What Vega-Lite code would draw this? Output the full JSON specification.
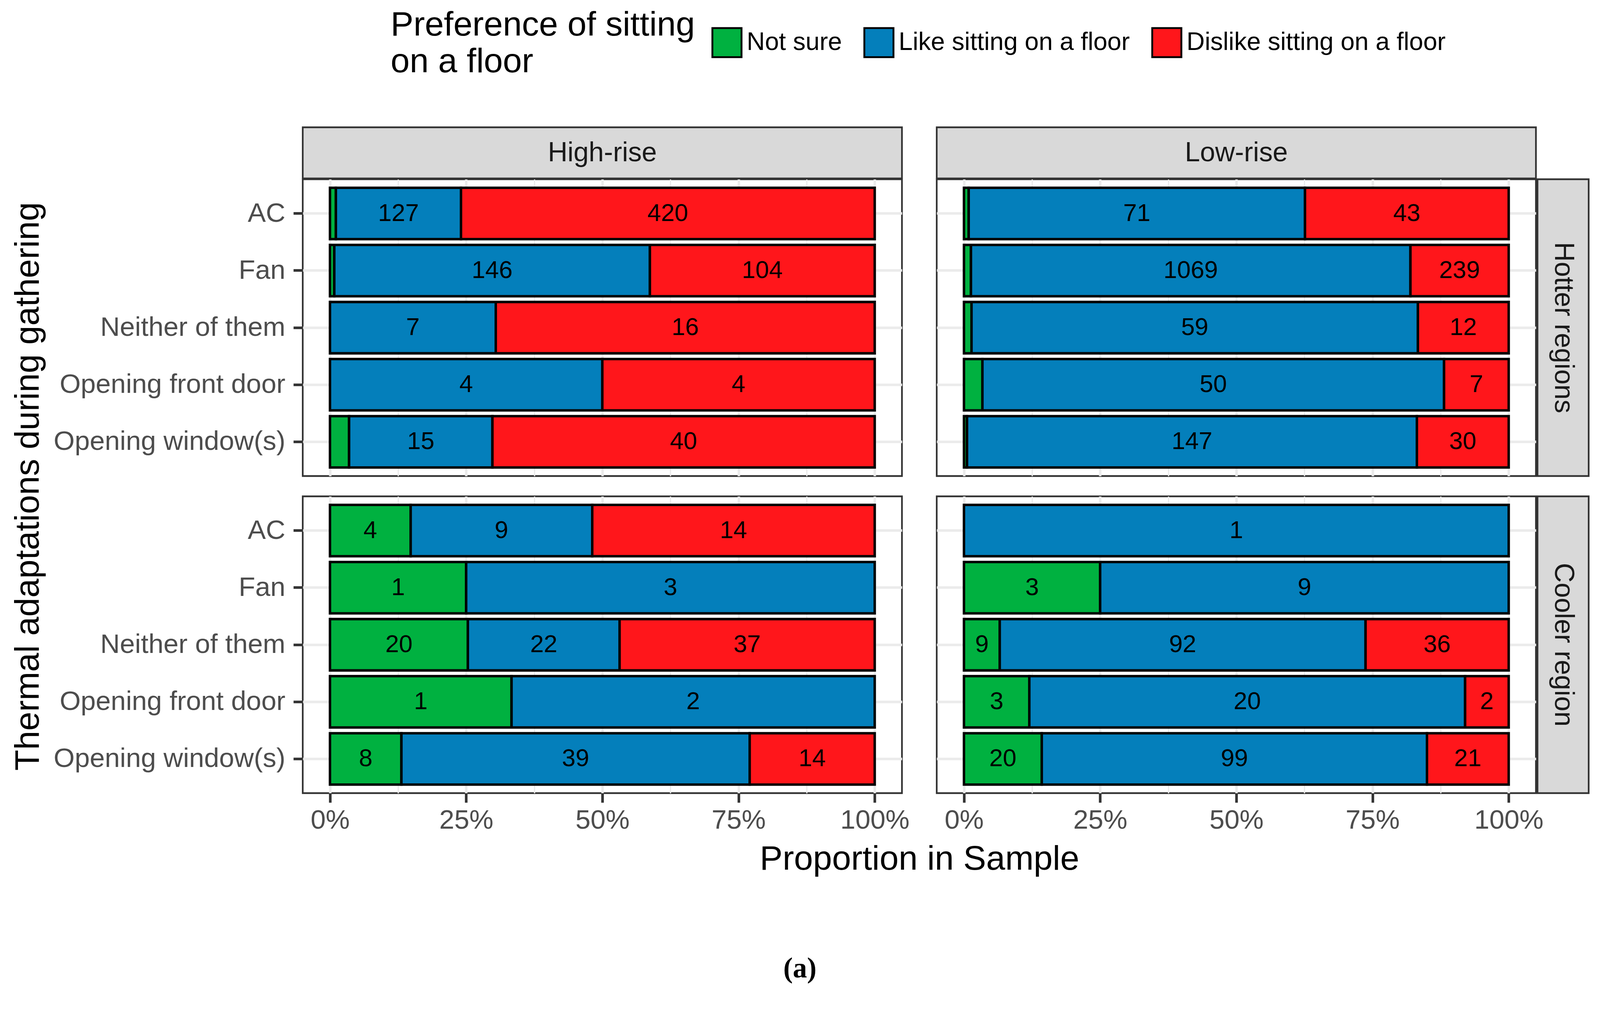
{
  "$schema": "https://vega.github.io/schema/vega-lite/v6.json",
  "autosize": {"type": "pad"},
  "padding": {"left": 26, "top": 69, "right": 27, "bottom": 10},
  "background": "white",
  "title": {"text": "(a)", "orient": "bottom", "anchor": "middle", "frame": "bounds", "font": "Liberation Serif", "fontSize": 73, "fontWeight": "bold", "color": "black", "offset": 198},
  "datasets": {
    "d": [
      {"bldg": "High-rise", "region": "Hotter regions", "adapt": "AC", "pref": "Not sure", "n": 6},
      {"bldg": "High-rise", "region": "Hotter regions", "adapt": "AC", "pref": "Like sitting on a floor", "n": 127},
      {"bldg": "High-rise", "region": "Hotter regions", "adapt": "AC", "pref": "Dislike sitting on a floor", "n": 420},
      {"bldg": "High-rise", "region": "Hotter regions", "adapt": "Fan", "pref": "Not sure", "n": 2},
      {"bldg": "High-rise", "region": "Hotter regions", "adapt": "Fan", "pref": "Like sitting on a floor", "n": 146},
      {"bldg": "High-rise", "region": "Hotter regions", "adapt": "Fan", "pref": "Dislike sitting on a floor", "n": 104},
      {"bldg": "High-rise", "region": "Hotter regions", "adapt": "Neither of them", "pref": "Like sitting on a floor", "n": 7},
      {"bldg": "High-rise", "region": "Hotter regions", "adapt": "Neither of them", "pref": "Dislike sitting on a floor", "n": 16},
      {"bldg": "High-rise", "region": "Hotter regions", "adapt": "Opening front door", "pref": "Like sitting on a floor", "n": 4},
      {"bldg": "High-rise", "region": "Hotter regions", "adapt": "Opening front door", "pref": "Dislike sitting on a floor", "n": 4},
      {"bldg": "High-rise", "region": "Hotter regions", "adapt": "Opening window(s)", "pref": "Not sure", "n": 2},
      {"bldg": "High-rise", "region": "Hotter regions", "adapt": "Opening window(s)", "pref": "Like sitting on a floor", "n": 15},
      {"bldg": "High-rise", "region": "Hotter regions", "adapt": "Opening window(s)", "pref": "Dislike sitting on a floor", "n": 40},
      {"bldg": "Low-rise", "region": "Hotter regions", "adapt": "AC", "pref": "Not sure", "n": 1},
      {"bldg": "Low-rise", "region": "Hotter regions", "adapt": "AC", "pref": "Like sitting on a floor", "n": 71},
      {"bldg": "Low-rise", "region": "Hotter regions", "adapt": "AC", "pref": "Dislike sitting on a floor", "n": 43},
      {"bldg": "Low-rise", "region": "Hotter regions", "adapt": "Fan", "pref": "Not sure", "n": 17},
      {"bldg": "Low-rise", "region": "Hotter regions", "adapt": "Fan", "pref": "Like sitting on a floor", "n": 1069},
      {"bldg": "Low-rise", "region": "Hotter regions", "adapt": "Fan", "pref": "Dislike sitting on a floor", "n": 239},
      {"bldg": "Low-rise", "region": "Hotter regions", "adapt": "Neither of them", "pref": "Not sure", "n": 1},
      {"bldg": "Low-rise", "region": "Hotter regions", "adapt": "Neither of them", "pref": "Like sitting on a floor", "n": 59},
      {"bldg": "Low-rise", "region": "Hotter regions", "adapt": "Neither of them", "pref": "Dislike sitting on a floor", "n": 12},
      {"bldg": "Low-rise", "region": "Hotter regions", "adapt": "Opening front door", "pref": "Not sure", "n": 2},
      {"bldg": "Low-rise", "region": "Hotter regions", "adapt": "Opening front door", "pref": "Like sitting on a floor", "n": 50},
      {"bldg": "Low-rise", "region": "Hotter regions", "adapt": "Opening front door", "pref": "Dislike sitting on a floor", "n": 7},
      {"bldg": "Low-rise", "region": "Hotter regions", "adapt": "Opening window(s)", "pref": "Not sure", "n": 1},
      {"bldg": "Low-rise", "region": "Hotter regions", "adapt": "Opening window(s)", "pref": "Like sitting on a floor", "n": 147},
      {"bldg": "Low-rise", "region": "Hotter regions", "adapt": "Opening window(s)", "pref": "Dislike sitting on a floor", "n": 30},
      {"bldg": "High-rise", "region": "Cooler region", "adapt": "AC", "pref": "Not sure", "n": 4},
      {"bldg": "High-rise", "region": "Cooler region", "adapt": "AC", "pref": "Like sitting on a floor", "n": 9},
      {"bldg": "High-rise", "region": "Cooler region", "adapt": "AC", "pref": "Dislike sitting on a floor", "n": 14},
      {"bldg": "High-rise", "region": "Cooler region", "adapt": "Fan", "pref": "Not sure", "n": 1},
      {"bldg": "High-rise", "region": "Cooler region", "adapt": "Fan", "pref": "Like sitting on a floor", "n": 3},
      {"bldg": "High-rise", "region": "Cooler region", "adapt": "Neither of them", "pref": "Not sure", "n": 20},
      {"bldg": "High-rise", "region": "Cooler region", "adapt": "Neither of them", "pref": "Like sitting on a floor", "n": 22},
      {"bldg": "High-rise", "region": "Cooler region", "adapt": "Neither of them", "pref": "Dislike sitting on a floor", "n": 37},
      {"bldg": "High-rise", "region": "Cooler region", "adapt": "Opening front door", "pref": "Not sure", "n": 1},
      {"bldg": "High-rise", "region": "Cooler region", "adapt": "Opening front door", "pref": "Like sitting on a floor", "n": 2},
      {"bldg": "High-rise", "region": "Cooler region", "adapt": "Opening window(s)", "pref": "Not sure", "n": 8},
      {"bldg": "High-rise", "region": "Cooler region", "adapt": "Opening window(s)", "pref": "Like sitting on a floor", "n": 39},
      {"bldg": "High-rise", "region": "Cooler region", "adapt": "Opening window(s)", "pref": "Dislike sitting on a floor", "n": 14},
      {"bldg": "Low-rise", "region": "Cooler region", "adapt": "AC", "pref": "Like sitting on a floor", "n": 1},
      {"bldg": "Low-rise", "region": "Cooler region", "adapt": "Fan", "pref": "Not sure", "n": 3},
      {"bldg": "Low-rise", "region": "Cooler region", "adapt": "Fan", "pref": "Like sitting on a floor", "n": 9},
      {"bldg": "Low-rise", "region": "Cooler region", "adapt": "Neither of them", "pref": "Not sure", "n": 9},
      {"bldg": "Low-rise", "region": "Cooler region", "adapt": "Neither of them", "pref": "Like sitting on a floor", "n": 92},
      {"bldg": "Low-rise", "region": "Cooler region", "adapt": "Neither of them", "pref": "Dislike sitting on a floor", "n": 36},
      {"bldg": "Low-rise", "region": "Cooler region", "adapt": "Opening front door", "pref": "Not sure", "n": 3},
      {"bldg": "Low-rise", "region": "Cooler region", "adapt": "Opening front door", "pref": "Like sitting on a floor", "n": 20},
      {"bldg": "Low-rise", "region": "Cooler region", "adapt": "Opening front door", "pref": "Dislike sitting on a floor", "n": 2},
      {"bldg": "Low-rise", "region": "Cooler region", "adapt": "Opening window(s)", "pref": "Not sure", "n": 20},
      {"bldg": "Low-rise", "region": "Cooler region", "adapt": "Opening window(s)", "pref": "Like sitting on a floor", "n": 99},
      {"bldg": "Low-rise", "region": "Cooler region", "adapt": "Opening window(s)", "pref": "Dislike sitting on a floor", "n": 21}
    ]
  },
  "columns": 4,
  "spacing": {"row": 2, "column": 4},
  "bounds": "flush",
  "concat": [
    {
      "width": 1534, "height": 131,
      "data": {"values": [{"t": "High-rise"}]},
      "view": {"fill": "#D9D9D9", "stroke": "#333333", "strokeWidth": 4.3},
      "mark": {"type": "text", "fontSize": 69.8, "color": "#1A1A1A"},
      "encoding": {"text": {"field": "t"}}
    },
    {"width": 81, "height": 1, "data": {"values": []}, "mark": "text", "encoding": {}},
    {
      "width": 1534, "height": 131,
      "data": {"values": [{"t": "Low-rise"}]},
      "view": {"fill": "#D9D9D9", "stroke": "#333333", "strokeWidth": 4.3},
      "mark": {"type": "text", "fontSize": 69.8, "color": "#1A1A1A"},
      "encoding": {"text": {"field": "t"}}
    },
    {"width": 1, "height": 1, "data": {"values": []}, "mark": "text", "encoding": {}},

    {
      "width": 1534, "height": 760,
      "data": {"name": "d"},
      "transform": [
        {"filter": "datum.bldg === 'High-rise' && datum.region === 'Hotter regions'"},
        {"joinaggregate": [{"op": "sum", "field": "n", "as": "total"}], "groupby": ["adapt"]}
      ],
      "view": {"stroke": "#333333", "strokeWidth": 4.3},
      "encoding": {
        "y": {"field": "adapt", "type": "nominal",
          "scale": {"domain": ["AC", "Fan", "Neither of them", "Opening front door", "Opening window(s)"], "paddingInner": 0.1, "paddingOuter": 0.15},
          "axis": {"title": null, "labelFontSize": 69.3, "labelColor": "#4D4D4D", "labelPadding": 21, "tickSize": 24, "tickWidth": 6.7, "tickColor": "#333333", "domain": false, "grid": true, "gridColor": "#EBEBEB", "gridWidth": 6.3, "bandPosition": 0.5}},
        "order": {"field": "pref", "sort": "descending"}
      },
      "layer": [
        {
          "mark": {"type": "bar", "stroke": "black", "strokeWidth": 6.3},
          "encoding": {
            "x": {"field": "n", "type": "quantitative", "stack": "normalize",
              "scale": {"domain": [-0.05, 1.05], "nice": false, "zero": false},
              "axis": {"title": null, "labels": false, "ticks": false, "domain": false, "grid": true, "gridColor": "#EBEBEB",
                "values": [0, 0.125, 0.25, 0.375, 0.5, 0.625, 0.75, 0.875, 1],
                "gridWidth": {"condition": {"test": "datum.value * 4 % 1 !== 0", "value": 3.2}, "value": 6.3}}},
            "color": {"field": "pref", "type": "nominal",
              "scale": {"domain": ["Not sure", "Like sitting on a floor", "Dislike sitting on a floor"], "range": ["#00B140", "#047FBB", "#FF161B"]},
              "legend": {"orient": "none", "legendX": 225, "legendY": -257, "direction": "horizontal",
                "title": ["Preference of sitting", "on a floor"], "titleOrient": "left", "titleAnchor": "middle", "titleLimit": 0,
                "titleFontSize": 87.6, "titleFontWeight": "normal", "titleColor": "black", "titleLineHeight": 94.4, "titlePadding": 41,
                "labelFontSize": 64.5, "labelColor": "black", "labelOffset": 10.6, "columnPadding": 47,
                "symbolType": "square", "symbolSize": 5560, "symbolStrokeColor": "black", "symbolStrokeWidth": 4.8, "symbolOpacity": 1}}
          }
        },
        {
          "mark": {"type": "text", "fontSize": 62.6, "color": "black"},
          "encoding": {
            "x": {"field": "n", "type": "quantitative", "stack": "normalize", "bandPosition": 0.5,
              "scale": {"domain": [-0.05, 1.05], "nice": false, "zero": false},
              "axis": {"title": null, "labels": false, "ticks": false, "domain": false, "grid": true, "gridColor": "#EBEBEB",
                "values": [0, 0.125, 0.25, 0.375, 0.5, 0.625, 0.75, 0.875, 1],
                "gridWidth": {"condition": {"test": "datum.value * 4 % 1 !== 0", "value": 3.2}, "value": 6.3}}},
            "detail": {"field": "pref"},
            "text": {"condition": {"test": "datum.n / datum.total > 0.05", "field": "n", "type": "quantitative"}, "value": ""}
          }
        }
      ]
    },
    {"width": 81, "height": 1, "data": {"values": []}, "mark": "text", "encoding": {}},
    {
      "width": 1534, "height": 760,
      "data": {"name": "d"},
      "transform": [
        {"filter": "datum.bldg === 'Low-rise' && datum.region === 'Hotter regions'"},
        {"joinaggregate": [{"op": "sum", "field": "n", "as": "total"}], "groupby": ["adapt"]}
      ],
      "view": {"stroke": "#333333", "strokeWidth": 4.3},
      "encoding": {
        "y": {"field": "adapt", "type": "nominal",
          "scale": {"domain": ["AC", "Fan", "Neither of them", "Opening front door", "Opening window(s)"], "paddingInner": 0.1, "paddingOuter": 0.15},
          "axis": {"title": null, "labels": false, "ticks": false, "domain": false, "grid": true, "gridColor": "#EBEBEB", "gridWidth": 6.3, "bandPosition": 0.5}},
        "order": {"field": "pref", "sort": "descending"}
      },
      "layer": [
        {
          "mark": {"type": "bar", "stroke": "black", "strokeWidth": 6.3},
          "encoding": {
            "x": {"field": "n", "type": "quantitative", "stack": "normalize",
              "scale": {"domain": [-0.05, 1.05], "nice": false, "zero": false},
              "axis": {"title": null, "labels": false, "ticks": false, "domain": false, "grid": true, "gridColor": "#EBEBEB",
                "values": [0, 0.125, 0.25, 0.375, 0.5, 0.625, 0.75, 0.875, 1],
                "gridWidth": {"condition": {"test": "datum.value * 4 % 1 !== 0", "value": 3.2}, "value": 6.3}}},
            "color": {"field": "pref", "type": "nominal",
              "scale": {"domain": ["Not sure", "Like sitting on a floor", "Dislike sitting on a floor"], "range": ["#00B140", "#047FBB", "#FF161B"]}}
          }
        },
        {
          "mark": {"type": "text", "fontSize": 62.6, "color": "black"},
          "encoding": {
            "x": {"field": "n", "type": "quantitative", "stack": "normalize", "bandPosition": 0.5,
              "scale": {"domain": [-0.05, 1.05], "nice": false, "zero": false},
              "axis": {"title": null, "labels": false, "ticks": false, "domain": false, "grid": true, "gridColor": "#EBEBEB",
                "values": [0, 0.125, 0.25, 0.375, 0.5, 0.625, 0.75, 0.875, 1],
                "gridWidth": {"condition": {"test": "datum.value * 4 % 1 !== 0", "value": 3.2}, "value": 6.3}}},
            "detail": {"field": "pref"},
            "text": {"condition": {"test": "datum.n / datum.total > 0.05", "field": "n", "type": "quantitative"}, "value": ""}
          }
        }
      ]
    },
    {
      "width": 131, "height": 760,
      "data": {"values": [{"t": "Hotter regions"}]},
      "view": {"fill": "#D9D9D9", "stroke": "#333333", "strokeWidth": 4.3},
      "mark": {"type": "text", "fontSize": 69.8, "color": "#1A1A1A", "angle": 90},
      "encoding": {"text": {"field": "t"}}
    },

    {"width": 1, "height": 48, "data": {"values": []}, "mark": "text", "encoding": {}},
    {"width": 1, "height": 48, "data": {"values": []}, "mark": "text", "encoding": {}},
    {"width": 1, "height": 48, "data": {"values": []}, "mark": "text", "encoding": {}},
    {"width": 1, "height": 48, "data": {"values": []}, "mark": "text", "encoding": {}},

    {
      "width": 1534, "height": 760,
      "data": {"name": "d"},
      "transform": [
        {"filter": "datum.bldg === 'High-rise' && datum.region === 'Cooler region'"},
        {"joinaggregate": [{"op": "sum", "field": "n", "as": "total"}], "groupby": ["adapt"]}
      ],
      "view": {"stroke": "#333333", "strokeWidth": 4.3},
      "encoding": {
        "y": {"field": "adapt", "type": "nominal",
          "scale": {"domain": ["AC", "Fan", "Neither of them", "Opening front door", "Opening window(s)"], "paddingInner": 0.1, "paddingOuter": 0.15},
          "axis": {"title": "Thermal adaptations during gathering", "titleFontSize": 87.6, "titleFontWeight": "normal", "titleColor": "black", "titleX": -658.5, "titleY": -26,
            "labelFontSize": 69.3, "labelColor": "#4D4D4D", "labelPadding": 21, "tickSize": 24, "tickWidth": 6.7, "tickColor": "#333333", "domain": false, "grid": true, "gridColor": "#EBEBEB", "gridWidth": 6.3, "bandPosition": 0.5}},
        "order": {"field": "pref", "sort": "descending"}
      },
      "layer": [
        {
          "mark": {"type": "bar", "stroke": "black", "strokeWidth": 6.3},
          "encoding": {
            "x": {"field": "n", "type": "quantitative", "stack": "normalize",
              "scale": {"domain": [-0.05, 1.05], "nice": false, "zero": false},
              "axis": {"title": "Proportion in Sample", "titleFontSize": 87.6, "titleFontWeight": "normal", "titleColor": "black", "titlePadding": 22, "titleX": 1578.5,
                "values": [0, 0.125, 0.25, 0.375, 0.5, 0.625, 0.75, 0.875, 1],
                "labelExpr": "datum.value * 4 % 1 === 0 ? format(datum.value, '.0%') : ''",
                "labelOverlap": false, "labelFlush": false, "labelFontSize": 69.3, "labelColor": "#4D4D4D", "labelPadding": 11.6,
                "tickSize": 24, "tickWidth": 6.7, "tickColor": "#333333",
                "tickOpacity": {"condition": {"test": "datum.value * 4 % 1 !== 0", "value": 0}, "value": 1},
                "domain": false, "grid": true, "gridColor": "#EBEBEB",
                "gridWidth": {"condition": {"test": "datum.value * 4 % 1 !== 0", "value": 3.2}, "value": 6.3}}},
            "color": {"field": "pref", "type": "nominal",
              "scale": {"domain": ["Not sure", "Like sitting on a floor", "Dislike sitting on a floor"], "range": ["#00B140", "#047FBB", "#FF161B"]}}
          }
        },
        {
          "mark": {"type": "text", "fontSize": 62.6, "color": "black"},
          "encoding": {
            "x": {"field": "n", "type": "quantitative", "stack": "normalize", "bandPosition": 0.5,
              "scale": {"domain": [-0.05, 1.05], "nice": false, "zero": false},
              "axis": {"title": "Proportion in Sample", "titleFontSize": 87.6, "titleFontWeight": "normal", "titleColor": "black", "titlePadding": 22, "titleX": 1578.5,
                "values": [0, 0.125, 0.25, 0.375, 0.5, 0.625, 0.75, 0.875, 1],
                "labelExpr": "datum.value * 4 % 1 === 0 ? format(datum.value, '.0%') : ''",
                "labelOverlap": false, "labelFlush": false, "labelFontSize": 69.3, "labelColor": "#4D4D4D", "labelPadding": 11.6,
                "tickSize": 24, "tickWidth": 6.7, "tickColor": "#333333",
                "tickOpacity": {"condition": {"test": "datum.value * 4 % 1 !== 0", "value": 0}, "value": 1},
                "domain": false, "grid": true, "gridColor": "#EBEBEB",
                "gridWidth": {"condition": {"test": "datum.value * 4 % 1 !== 0", "value": 3.2}, "value": 6.3}}},
            "detail": {"field": "pref"},
            "text": {"condition": {"test": "datum.n / datum.total > 0.05", "field": "n", "type": "quantitative"}, "value": ""}
          }
        }
      ]
    },
    {"width": 81, "height": 1, "data": {"values": []}, "mark": "text", "encoding": {}},
    {
      "width": 1534, "height": 760,
      "data": {"name": "d"},
      "transform": [
        {"filter": "datum.bldg === 'Low-rise' && datum.region === 'Cooler region'"},
        {"joinaggregate": [{"op": "sum", "field": "n", "as": "total"}], "groupby": ["adapt"]}
      ],
      "view": {"stroke": "#333333", "strokeWidth": 4.3},
      "encoding": {
        "y": {"field": "adapt", "type": "nominal",
          "scale": {"domain": ["AC", "Fan", "Neither of them", "Opening front door", "Opening window(s)"], "paddingInner": 0.1, "paddingOuter": 0.15},
          "axis": {"title": null, "labels": false, "ticks": false, "domain": false, "grid": true, "gridColor": "#EBEBEB", "gridWidth": 6.3, "bandPosition": 0.5}},
        "order": {"field": "pref", "sort": "descending"}
      },
      "layer": [
        {
          "mark": {"type": "bar", "stroke": "black", "strokeWidth": 6.3},
          "encoding": {
            "x": {"field": "n", "type": "quantitative", "stack": "normalize",
              "scale": {"domain": [-0.05, 1.05], "nice": false, "zero": false},
              "axis": {"title": null,
                "values": [0, 0.125, 0.25, 0.375, 0.5, 0.625, 0.75, 0.875, 1],
                "labelExpr": "datum.value * 4 % 1 === 0 ? format(datum.value, '.0%') : ''",
                "labelOverlap": false, "labelFlush": false, "labelFontSize": 69.3, "labelColor": "#4D4D4D", "labelPadding": 11.6,
                "tickSize": 24, "tickWidth": 6.7, "tickColor": "#333333",
                "tickOpacity": {"condition": {"test": "datum.value * 4 % 1 !== 0", "value": 0}, "value": 1},
                "domain": false, "grid": true, "gridColor": "#EBEBEB",
                "gridWidth": {"condition": {"test": "datum.value * 4 % 1 !== 0", "value": 3.2}, "value": 6.3}}},
            "color": {"field": "pref", "type": "nominal",
              "scale": {"domain": ["Not sure", "Like sitting on a floor", "Dislike sitting on a floor"], "range": ["#00B140", "#047FBB", "#FF161B"]}}
          }
        },
        {
          "mark": {"type": "text", "fontSize": 62.6, "color": "black"},
          "encoding": {
            "x": {"field": "n", "type": "quantitative", "stack": "normalize", "bandPosition": 0.5,
              "scale": {"domain": [-0.05, 1.05], "nice": false, "zero": false},
              "axis": {"title": null,
                "values": [0, 0.125, 0.25, 0.375, 0.5, 0.625, 0.75, 0.875, 1],
                "labelExpr": "datum.value * 4 % 1 === 0 ? format(datum.value, '.0%') : ''",
                "labelOverlap": false, "labelFlush": false, "labelFontSize": 69.3, "labelColor": "#4D4D4D", "labelPadding": 11.6,
                "tickSize": 24, "tickWidth": 6.7, "tickColor": "#333333",
                "tickOpacity": {"condition": {"test": "datum.value * 4 % 1 !== 0", "value": 0}, "value": 1},
                "domain": false, "grid": true, "gridColor": "#EBEBEB",
                "gridWidth": {"condition": {"test": "datum.value * 4 % 1 !== 0", "value": 3.2}, "value": 6.3}}},
            "detail": {"field": "pref"},
            "text": {"condition": {"test": "datum.n / datum.total > 0.05", "field": "n", "type": "quantitative"}, "value": ""}
          }
        }
      ]
    },
    {
      "width": 131, "height": 760,
      "data": {"values": [{"t": "Cooler region"}]},
      "view": {"fill": "#D9D9D9", "stroke": "#333333", "strokeWidth": 4.3},
      "mark": {"type": "text", "fontSize": 69.8, "color": "#1A1A1A", "angle": 90},
      "encoding": {"text": {"field": "t"}}
    }
  ],
  "config": {
    "font": "Liberation Sans",
    "view": {"stroke": null},
    "axis": {"labelFont": "Liberation Sans", "titleFont": "Liberation Sans", "labelLimit": 0},
    "legend": {"labelFont": "Liberation Sans", "titleFont": "Liberation Sans", "labelLimit": 0, "titleLimit": 0}
  }
}
